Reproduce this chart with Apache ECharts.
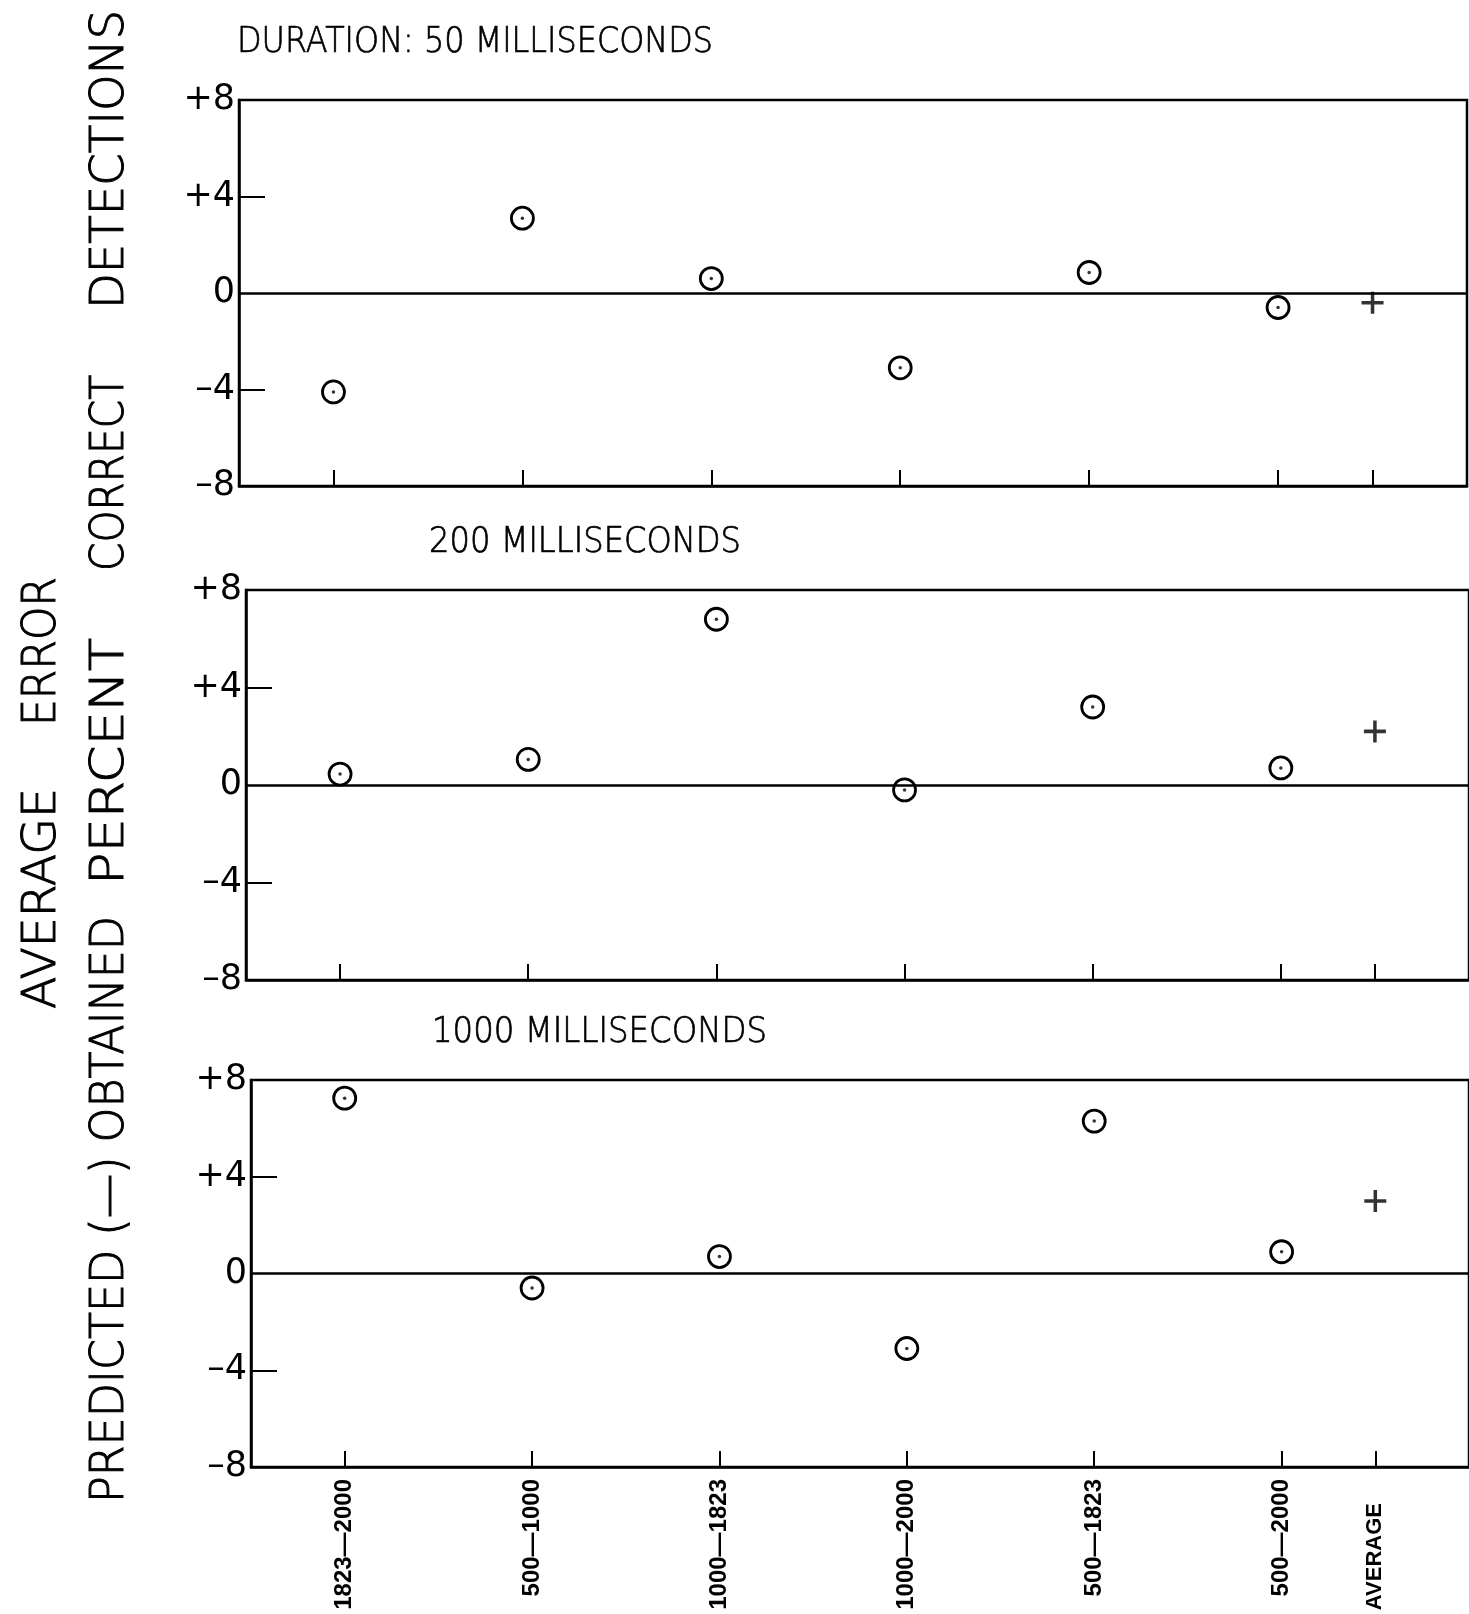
<!DOCTYPE html>
<html>
<head>
<meta charset="utf-8">
<script src="https://cdn.jsdelivr.net/npm/echarts@6/dist/echarts.min.js"></script>
<style>
  html, body { margin: 0; padding: 0; background: #fff; }
  #main { width: 1469px; height: 1614px; }
</style>
</head>
<body>
<div id="main"></div>
<script>
// pairs of wavelengths (Hz) along x, plus the average column
var pairs = ['1823\u20142000', '500\u20141000', '1000\u20141823', '1000\u20142000', '500\u20141823', '500\u20142000'];
var pairPos = [1, 2, 3, 4, 5, 6];
var avgPos = 6.5;
var yTicks = [-8, -4, 0, 4, 8];

// predicted minus obtained, percent correct detections
var err50 = [-4.1, 3.1, 0.6, -3.1, 0.85, -0.6];
var avg50 = -0.4;
var err200 = [0.45, 1.05, 6.8, -0.2, 3.2, 0.7];
var avg200 = 2.2;
var err1000 = [7.25, -0.6, 0.7, -3.1, 6.3, 0.9];
var avg1000 = 3.0;

var titles = ['DURATION: 50 MILLISECONDS', '200 MILLISECONDS', '1000 MILLISECONDS'];

var chart = echarts.init(document.getElementById('main'), null, { renderer: 'canvas' });

var FONT = '"DejaVu Sans", sans-serif';
var plusPath = 'path://M-1.6,-10 H1.6 V-1.6 H10 V1.6 H1.6 V10 H-1.6 V1.6 H-10 V-1.6 H-1.6 Z';

// squeeze a text so it fills the same length as in the scan
var mctx = document.createElement('canvas').getContext('2d');
function squeeze(text, font, len) {
  mctx.font = font;
  return len / mctx.measureText(text).width;
}

var grids = [
  { left: 239, top: 100, width: 1228, height: 386 },
  { left: 246, top: 590, width: 1226, height: 390 },
  { left: 251, top: 1080, width: 1225, height: 387 }
];

function buildX(i) {
  return {
    type: 'value', gridIndex: i, min: 0.5, max: 7,
    splitLine: { show: false },
    axisLine: { show: true, onZero: false, lineStyle: { color: '#000', width: 2.5 } },
    axisTick: { show: true, inside: true, length: 16, customValues: pairPos.concat([avgPos]),
      lineStyle: { color: '#000', width: 2 } },
    axisLabel: {
      show: i === 2, rotate: 90, margin: 12,
      customValues: pairPos.concat([avgPos]),
      fontFamily: 'Liberation Sans', fontWeight: 'bold', fontSize: 24, color: '#000',
      formatter: function (v) {
        if (v === avgPos) return '{a|AVERAGE}';
        return pairs[Math.round(v) - 1];
      },
      rich: { a: { fontSize: 22, fontWeight: 'bold', fontFamily: 'Liberation Sans', color: '#000',
        padding: [0, 24, 0, 0] } }
    }
  };
}

function buildY(i) {
  return {
    type: 'value', gridIndex: i, min: -8, max: 8, interval: 4,
    splitLine: { show: false },
    axisLine: { show: true, lineStyle: { color: '#000', width: 2.5 } },
    axisTick: { show: true, inside: true, length: 26, customValues: [-4, 4],
      lineStyle: { color: '#000', width: 2 } },
    axisLabel: {
      margin: 4, fontFamily: 'DejaVu Sans', fontSize: 35, color: '#000',
      customValues: yTicks,
      formatter: function (v) { return v > 0 ? '+' + v : (v < 0 ? '\u2013' + (-v) : '0'); }
    }
  };
}

var data = [[err50, avg50], [err200, avg200], [err1000, avg1000]];
var series = [];
data.forEach(function (d, i) {
  var pts = d[0].map(function (v, k) { return [pairPos[k], v]; });
  series.push({
    type: 'scatter', xAxisIndex: i, yAxisIndex: i, data: pts,
    symbol: 'circle', symbolSize: 22,
    itemStyle: { color: '#fff', borderColor: '#000', borderWidth: 2.8, opacity: 1 },
    markLine: {
      silent: true, symbol: 'none', label: { show: false },
      lineStyle: { color: '#000', width: 2.5, type: 'solid' },
      data: [{ yAxis: 0 }]
    },
    z: 3
  });
  series.push({
    type: 'scatter', xAxisIndex: i, yAxisIndex: i, data: pts,
    symbol: 'circle', symbolSize: 3.5,
    itemStyle: { color: '#000' }, z: 4
  });
  series.push({
    type: 'scatter', xAxisIndex: i, yAxisIndex: i, data: [[avgPos, d[1]]],
    symbol: plusPath, symbolSize: 22,
    itemStyle: { color: '#000' }, z: 4
  });
});

var graphic = [];
var titleFont = '200 36px ' + FONT;
[
  { x: 237, y: 25, len: 476, text: titles[0] },
  { x: 429, y: 525, len: 312, text: titles[1] },
  { x: 432, y: 1015, len: 335, text: titles[2] }
].forEach(function (t) {
  graphic.push({ type: 'text', x: t.x, y: t.y, scaleX: squeeze(t.text, titleFont, t.len),
    style: { text: t.text, font: titleFont, fill: '#000', stroke: '#000', lineWidth: 0.7 } });
});

// rotated y-axis title, two lines; each word placed where it sits in the scan
var vFont = '200 46px ' + FONT;
[
  { x: 20, from: 1009, len: 221, text: 'AVERAGE' },
  { x: 20, from: 726, len: 149, text: 'ERROR' },
  { x: 88, from: 1503, len: 587, text: 'PREDICTED (\u2014) OBTAINED' },
  { x: 88, from: 885, len: 247, text: 'PERCENT' },
  { x: 88, from: 571, len: 196, text: 'CORRECT' },
  { x: 88, from: 309, len: 299, text: 'DETECTIONS' }
].forEach(function (w) {
  graphic.push({ type: 'text', x: w.x, y: w.from, rotation: Math.PI / 2,
    scaleX: squeeze(w.text, vFont, w.len),
    style: { text: w.text, font: vFont, fill: '#000', stroke: '#000', lineWidth: 1 } });
});

chart.setOption({
  backgroundColor: '#fff',
  animation: false,
  grid: grids.map(function (g) {
    return Object.assign({ show: true, borderColor: '#000', borderWidth: 2.5, backgroundColor: 'transparent' }, g);
  }),
  xAxis: [buildX(0), buildX(1), buildX(2)],
  yAxis: [buildY(0), buildY(1), buildY(2)],
  series: series,
  graphic: graphic
});
</script>
</body>
</html>
